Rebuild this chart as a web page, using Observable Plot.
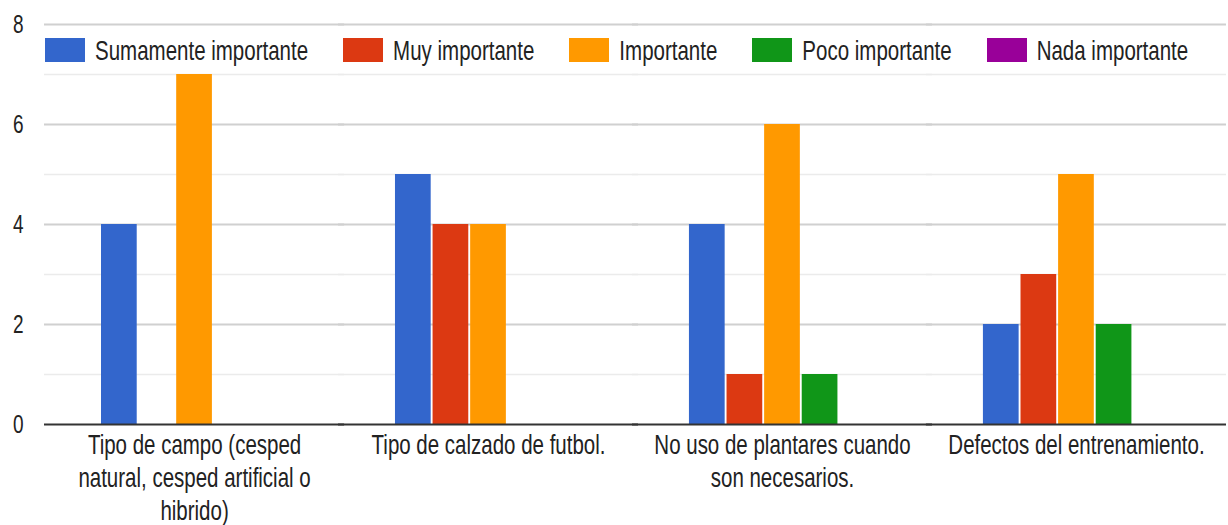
<!DOCTYPE html>
<html><head><meta charset="utf-8">
<script src="https://cdn.jsdelivr.net/npm/d3@7"></script>
<script src="https://cdn.jsdelivr.net/npm/@observablehq/plot@0.6"></script>
<style>
body{margin:0;background:#fff;font-family:"Liberation Sans",Arial,sans-serif;}
#wrap{position:relative;width:1228px;height:525px;}
#legend{position:absolute;left:45px;top:38px;display:flex;gap:35px;height:24px;align-items:center;}
.item{display:flex;align-items:center;}
.sw{width:40px;height:24px;margin-right:10px;}
.lab{font-size:20.5px;color:#222;display:inline-block;transform:scaleY(1.38);line-height:24px;white-space:nowrap;}
</style></head><body><div id="wrap"></div>
<script>
const categories = [
  "Tipo de campo (cesped natural, cesped artificial o hibrido)",
  "Tipo de calzado de futbol.",
  "No uso de plantares cuando son necesarios.",
  "Defectos del entrenamiento."
];
const categoryLabels = [
  "Tipo de campo (cesped\nnatural, cesped artificial o\nhibrido)",
  "Tipo de calzado de futbol.",
  "No uso de plantares cuando\nson necesarios.",
  "Defectos del entrenamiento."
];
const series = ["Sumamente importante", "Muy importante", "Importante", "Poco importante", "Nada importante"];
const colors = ["#3366cc", "#dc3912", "#ff9900", "#109618", "#990099"];
const sumamente = [4, 5, 4, 2];
const muy = [0, 4, 1, 3];
const importante = [7, 4, 6, 5];
const poco = [0, 0, 1, 2];
const nada = [0, 0, 0, 0];
const yMajor = [0, 2, 4, 6, 8];
const yMinor = [1, 3, 5, 7];

const valuesBySeries = [sumamente, muy, importante, poco, nada];
const data = [];
categories.forEach((c, i) => series.forEach((s, j) => data.push({category: c, series: s, value: valuesBySeries[j][i]})));

const ext = {insetLeft: -57, insetRight: -57};
const chart = Plot.plot({
  width: 1228,
  height: 525,
  marginLeft: 45,
  marginRight: 3,
  marginTop: 24,
  marginBottom: 101,
  style: {fontFamily: "'Liberation Sans', Arial, sans-serif", color: "#222", background: "#fff"},
  fx: {domain: categories, paddingInner: 0.367, paddingOuter: 0.1905, round: false},
  x: {domain: series, paddingInner: 0.05, paddingOuter: 0, round: false, axis: null},
  y: {domain: [0, 8], axis: null},
  color: {domain: series, range: colors},
  marks: [
    Plot.ruleY(yMinor, {stroke: "#ebebeb", strokeWidth: 1.5, ...ext}),
    Plot.ruleY(yMajor.filter(d => d !== 0), {stroke: "#d0d0d0", strokeWidth: 2, ...ext}),
    Plot.barY(data, {fx: "category", x: "series", y: "value", fill: "series"}),
    Plot.ruleY([0], {stroke: "#333", strokeWidth: 2, ...ext}),
    Plot.axisY({ticks: yMajor, anchor: "left", tickSize: 0, tickPadding: 78, fontSize: 19, label: null}),
    Plot.axisFx({anchor: "bottom", tickSize: 0, tickPadding: 6, fontSize: 20.5, lineHeight: 1.15, label: null,
      tickFormat: d => categoryLabels[categories.indexOf(d)]})
  ]
});

const wrap = document.getElementById("wrap");
wrap.appendChild(chart);

chart.querySelectorAll("text").forEach(t => {
  const bb = t.getBBox();
  const isFx = t.closest('[aria-label^="fx-axis"]');
  const ay = isFx ? bb.y : bb.y + bb.height / 2;
  const tr = t.getAttribute("transform") || "";
  t.setAttribute("transform", `${tr} translate(0,${ay}) scale(1,1.38) translate(0,${-ay})`);
});

const legend = document.createElement("div");
legend.id = "legend";
series.forEach((s, i) => {
  const item = document.createElement("div");
  item.className = "item";
  item.innerHTML = `<span class="sw" style="background:${colors[i]}"></span><span class="lab">${s}</span>`;
  legend.appendChild(item);
});
wrap.appendChild(legend);
</script></body></html>
